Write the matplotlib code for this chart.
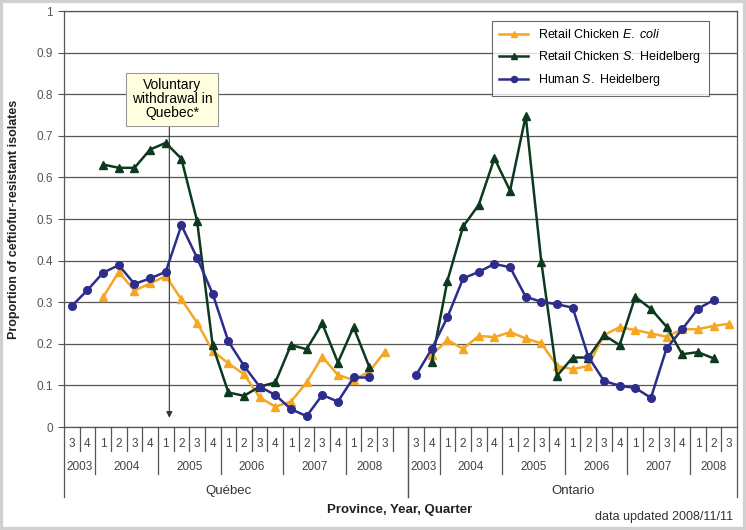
import numpy as np
import matplotlib.pyplot as plt
from matplotlib.patches import Rectangle

plt.rcParams['font.family'] = ['Liberation Sans', 'DejaVu Sans']
plt.rcParams['mathtext.fontset'] = 'custom'
plt.rcParams['mathtext.rm'] = 'Liberation Sans'
plt.rcParams['mathtext.it'] = 'Liberation Sans:italic'

# categories: quarters per year, same for both provinces
provinces = ['Québec', 'Ontario']
years = ['2003', '2004', '2005', '2006', '2007', '2008']
quarters = [[3, 4], [1, 2, 3, 4], [1, 2, 3, 4], [1, 2, 3, 4], [1, 2, 3, 4], [1, 2, 3]]

# Québec, 2003Q3 .. 2008Q3
qc_ecoli = [None, None, 0.312, 0.373, 0.328, 0.345, 0.363, 0.307, 0.251, 0.183, 0.153,
            0.127, 0.071, 0.049, 0.061, 0.107, 0.169, 0.125, 0.113, 0.133, 0.181]
qc_heidelberg = [None, None, 0.631, 0.623, 0.623, 0.667, 0.683, 0.645, 0.496, 0.196, 0.083,
                 0.075, 0.097, 0.107, 0.197, 0.187, 0.249, 0.155, 0.240, 0.145, None]
qc_human = [0.291, 0.329, 0.371, 0.389, 0.344, 0.357, 0.373, 0.485, 0.407, 0.320, 0.206,
            0.147, 0.097, 0.077, 0.043, 0.026, 0.077, 0.061, 0.119, 0.119, None]

# Ontario, 2003Q3 .. 2008Q3
on_ecoli = [None, 0.173, 0.209, 0.188, 0.219, 0.216, 0.228, 0.213, 0.201, 0.147, 0.139,
            0.147, 0.221, 0.240, 0.233, 0.225, 0.217, 0.235, 0.235, 0.243, 0.248]
on_heidelberg = [None, 0.156, 0.352, 0.482, 0.534, 0.646, 0.568, 0.748, 0.396, 0.123, 0.167,
                 0.167, 0.221, 0.197, 0.313, 0.284, 0.241, 0.175, 0.180, 0.165, None]
on_human = [0.125, 0.188, 0.264, 0.357, 0.373, 0.392, 0.384, 0.313, 0.301, 0.295, 0.287,
            0.169, 0.111, 0.099, 0.094, 0.070, 0.189, 0.235, 0.284, 0.305, None]

n_prov = sum(len(q) for q in quarters)
x = np.arange(2 * n_prov + 1)


def join(qc, on):
    vals = qc + [None] + on
    return np.array([np.nan if v is None else v for v in vals])


fig = plt.figure(figsize=(7.46, 5.30), dpi=100)
ax = fig.add_axes([64 / 746, 1 - 427 / 530, 673 / 746, 416 / 530])

ax.plot(x, join(qc_ecoli, on_ecoli), '-^', color='#F5A623', lw=1.8, ms=6,
        label='Retail Chicken $\\it{E.\\ coli}$')
ax.plot(x, join(qc_heidelberg, on_heidelberg), '-^', color='#0D3A1E', lw=1.8, ms=6,
        label='Retail Chicken $\\it{S.}\\ $Heidelberg')
ax.plot(x, join(qc_human, on_human), '-o', color='#2D2E8C', lw=1.8, ms=5.5,
        label='Human $\\it{S.}\\ $Heidelberg')

ax.set_xlim(-0.5, 2 * n_prov + 0.5)
ax.set_ylim(0, 1)
ax.set_yticks(np.arange(0, 1.01, 0.1))
ax.set_yticklabels(['0', '0.1', '0.2', '0.3', '0.4', '0.5', '0.6', '0.7', '0.8', '0.9', '1'])
ax.set_xticks([])
ax.tick_params(axis='y', direction='out', length=4, color='#555555', labelsize=8.5,
               labelcolor='#555555', pad=4)
ax.grid(axis='y', color='#555555', lw=0.9)
ax.set_axisbelow(True)
for s in ax.spines.values():
    s.set_color('#555555')
    s.set_linewidth(0.9)

# annotation: voluntary withdrawal
ax.annotate('', xy=(6.23, 0.022), xytext=(6.23, 0.731),
            arrowprops=dict(arrowstyle='-|>', lw=0.8, color='#333333',
                            mutation_scale=9, shrinkA=0, shrinkB=0))
ax.text(6.4, 0.7875, 'Voluntary\nwithdrawal in\nQuebec*', ha='center', va='center',
        fontsize=10, linespacing=1.0,
        bbox=dict(boxstyle='square,pad=0.4', facecolor='#FFFFE0', edgecolor='#999999', lw=0.8))

leg = ax.legend(loc='upper right', bbox_to_anchor=(0.958, 0.976), borderaxespad=0,
                fontsize=9, frameon=True, fancybox=False, edgecolor='#444444',
                handlelength=2.3, labelspacing=0.6, borderpad=0.6, markerscale=0.8)
leg.get_frame().set_linewidth(0.8)

# category table under the axis
trans = ax.get_xaxis_transform()
y_q, y_y, y_p = -0.0577, -0.113, -0.168
lc = '#555555'
for p, prov in enumerate(provinces):
    start = p * (n_prov + 1)
    pos = start
    ax.plot([start - 0.5] * 2, [0, y_p], color=lc, lw=0.9, transform=trans, clip_on=False)
    for yi, yr in enumerate(years):
        qs = quarters[yi]
        for k, q in enumerate(qs):
            ax.text(pos + k, -0.041, str(q), transform=trans, ha='center', va='center',
                    fontsize=8.5, color='#444444')
            if k > 0:
                ax.plot([pos + k - 0.5] * 2, [0, y_q], color=lc, lw=0.9,
                        transform=trans, clip_on=False)
        ax.text(pos + (len(qs) - 1) / 2, -0.0954, yr, transform=trans, ha='center',
                va='center', fontsize=8.5, color='#444444')
        pos += len(qs)
        if yi < len(years) - 1:
            ax.plot([pos - 0.5] * 2, [0, y_y], color=lc, lw=0.9, transform=trans, clip_on=False)
        else:
            end_len = y_q if p == 0 else y_p
            ax.plot([pos - 0.5] * 2, [0, end_len], color=lc, lw=0.9,
                    transform=trans, clip_on=False)
    ax.text(start + (n_prov - 1) / 2, -0.154, prov, transform=trans, ha='center',
            va='center', fontsize=9.5, color='#333333')
ax.plot([n_prov + 0.5] * 2, [0, y_p], color=lc, lw=0.9, transform=trans, clip_on=False)

fig.text(14 / 746, 1 - 219 / 530, 'Proportion of ceftiofur-resistant isolates', rotation=90,
         ha='center', va='center', fontsize=9, fontweight='bold', color='#222222')
fig.text(400 / 746, 1 - 510 / 530, 'Province, Year, Quarter', ha='center', va='center',
         fontsize=9.5, fontweight='bold', color='#222222')
fig.text(733 / 746, 1 - 517 / 530, 'data updated 2008/11/11', ha='right', va='center',
         fontsize=9, color='#333333')

fig.patches.append(Rectangle((0, 0), 1, 1, transform=fig.transFigure, fill=False,
                             edgecolor='#D0D0D0', lw=4.5))

fig.savefig('out.png', dpi=100)
